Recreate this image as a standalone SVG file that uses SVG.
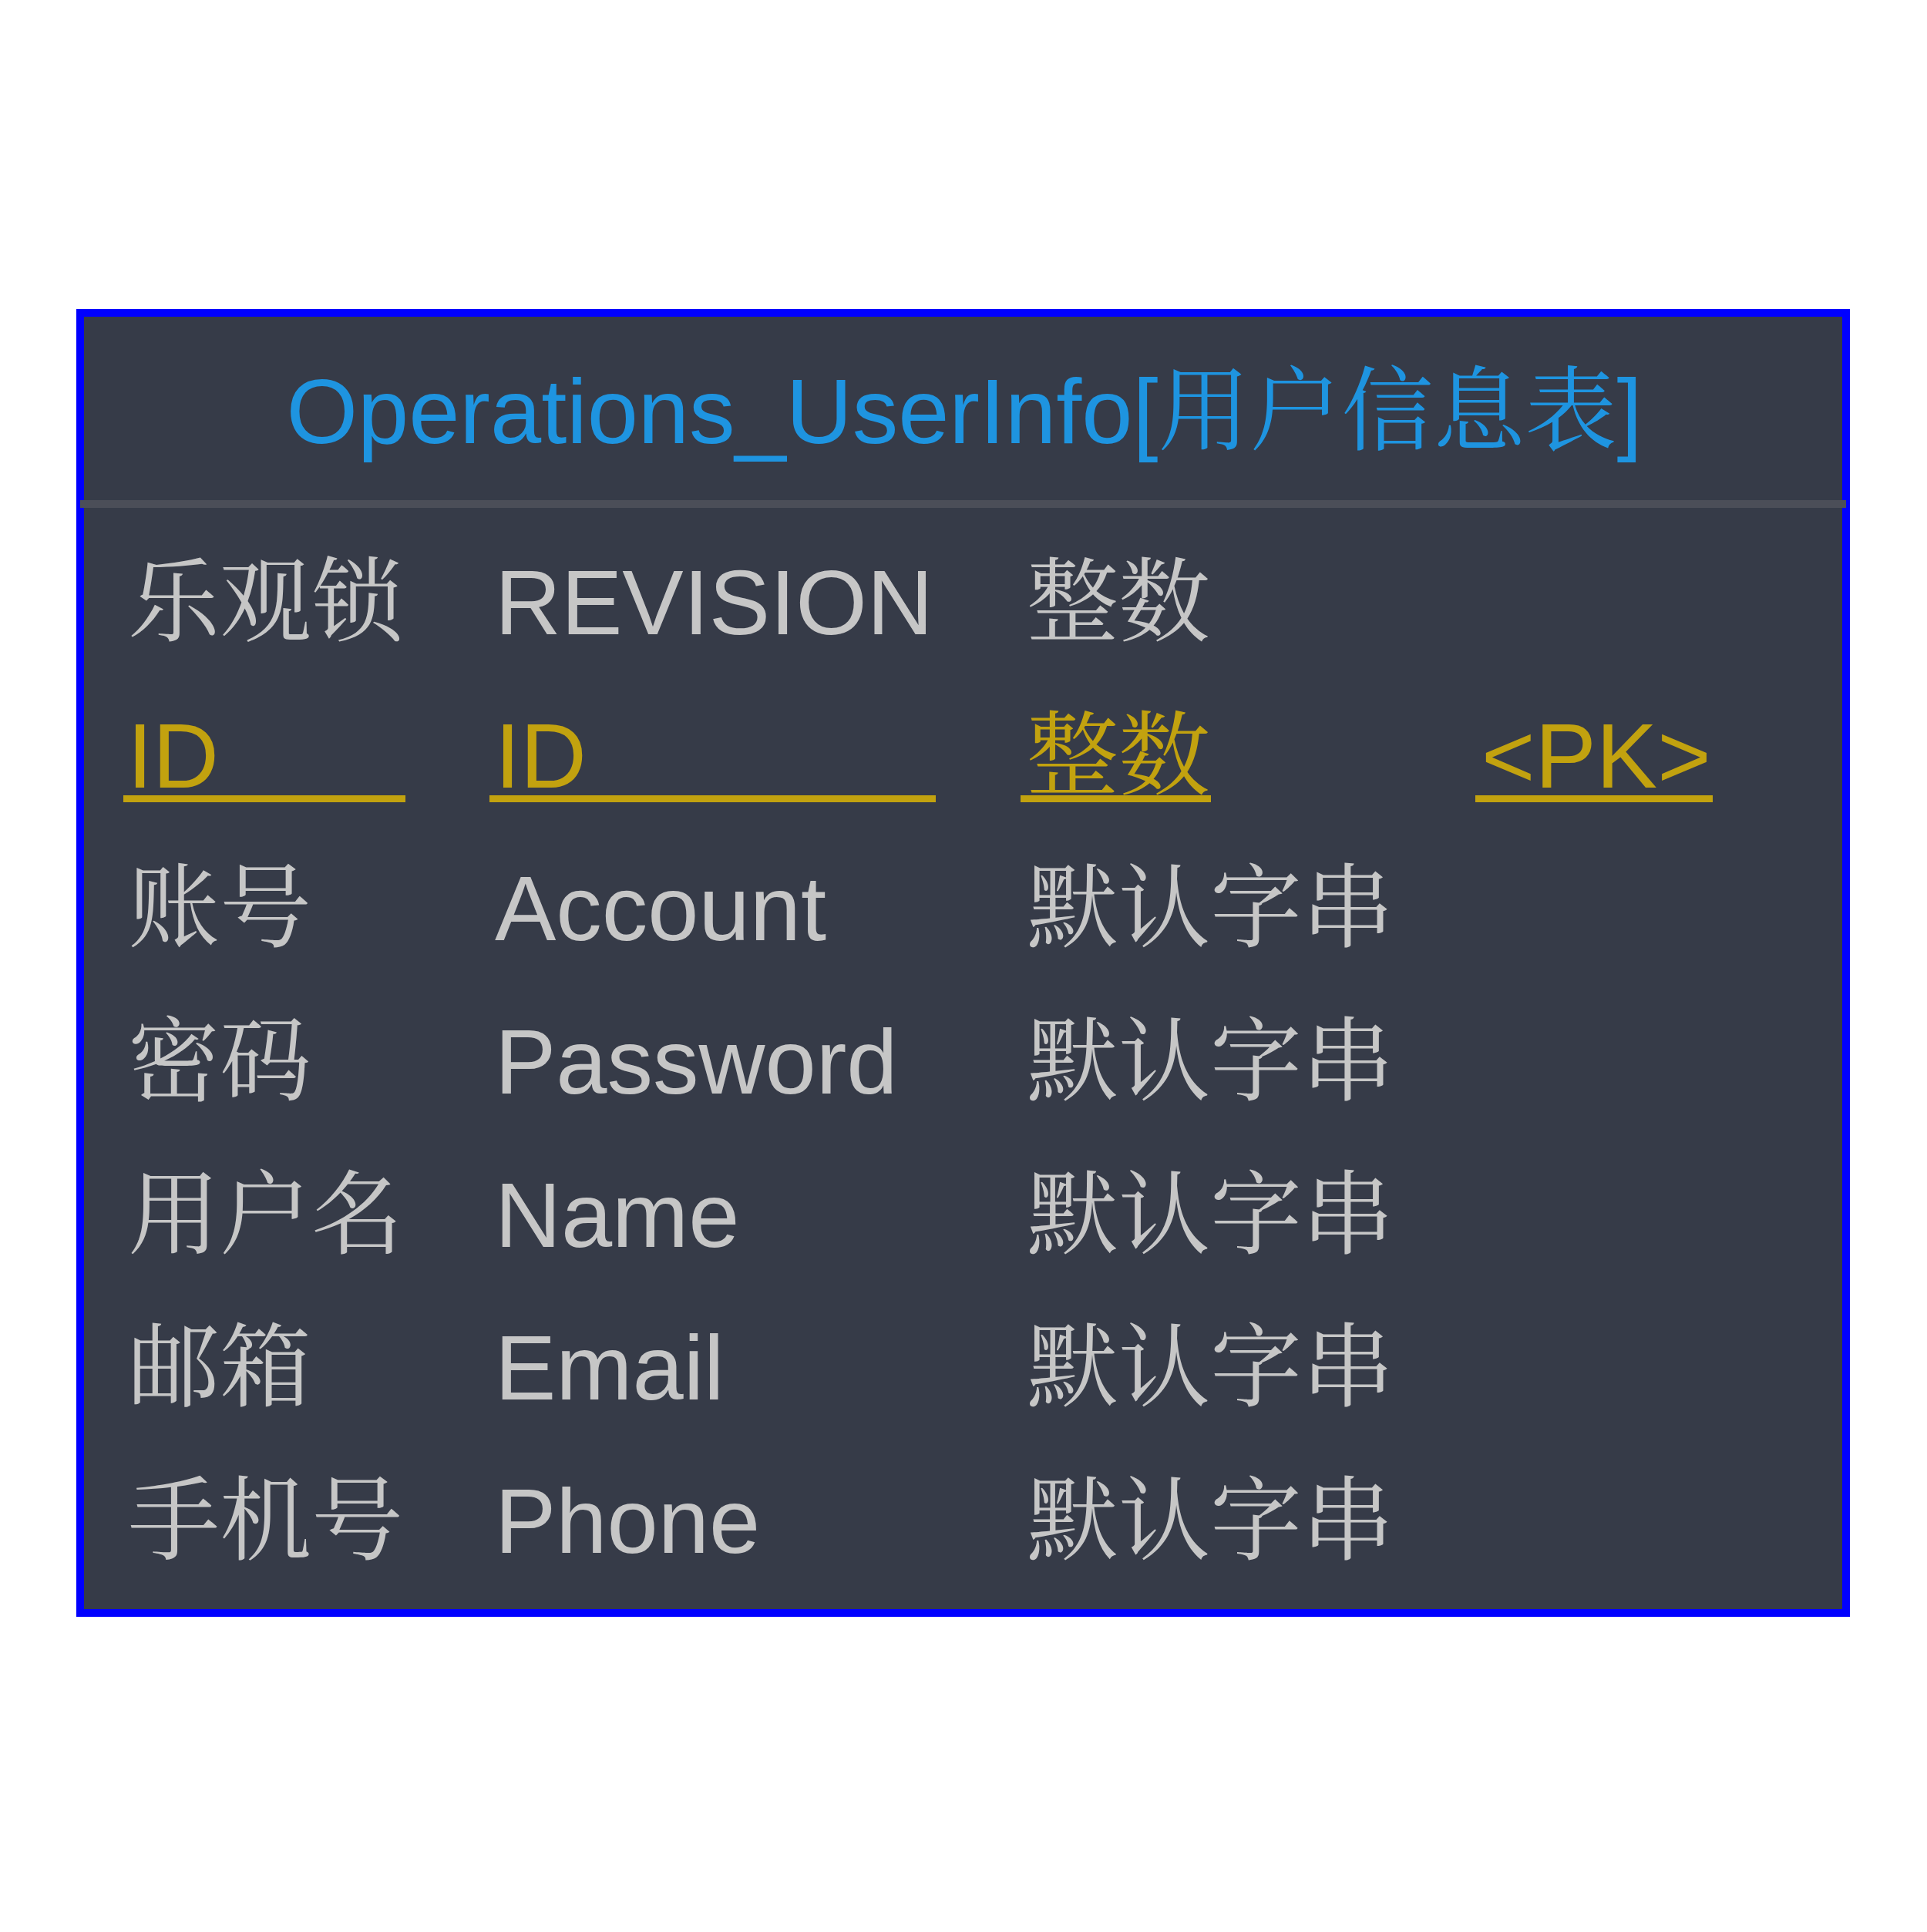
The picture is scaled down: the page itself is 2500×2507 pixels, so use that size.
<svg xmlns="http://www.w3.org/2000/svg" width="2500" height="2507" viewBox="0 0 2500 2507">
  <style>
    text { font-family: "Liberation Sans", Arial, "Noto Serif CJK SC", "Noto Sans CJK SC", sans-serif; font-size: 119px; }
    .title { fill: #1e94e0; text-anchor: middle; }
    .cell { fill: #c6c6c6; }
    .pk { fill: #c2a20f; }
    .ul { fill: #c2a20f; }
  </style>
  <rect x="0" y="0" width="2500" height="2507" fill="#ffffff"/>
  <g id="entity-Operations_UserInfo">
    <rect x="104" y="406" width="2291" height="1687" fill="#363b48" stroke="#0000ff" stroke-width="10"/>
    <text class="title" x="1251" y="575">Operations_UserInfo[用户信息表]</text>
    <rect x="104" y="649" width="2291" height="10" fill="#4b4e58"/>
    <g id="row-REVISION">
      <text class="cell" x="166" y="823">乐观锁</text>
      <text class="cell" x="642" y="823">REVISION</text>
      <text class="cell" x="1332" y="823">整数</text>
    </g>
    <g id="row-ID">
      <text class="pk" x="165" y="1022">ID</text>
      <text class="pk" x="642" y="1022">ID</text>
      <text class="pk" x="1332" y="1022">整数</text>
      <text class="pk" x="1922" y="1022">&lt;PK&gt;</text>
      <rect class="ul" x="160" y="1032" width="366" height="9"/>
      <rect class="ul" x="635" y="1032" width="579" height="9"/>
      <rect class="ul" x="1324" y="1032" width="247" height="9"/>
      <rect class="ul" x="1914" y="1032" width="308" height="9"/>
    </g>
    <g id="row-Account">
      <text class="cell" x="166" y="1220">账号</text>
      <text class="cell" x="642" y="1220">Account</text>
      <text class="cell" x="1332" y="1220">默认字串</text>
    </g>
    <g id="row-Password">
      <text class="cell" x="166" y="1419">密码</text>
      <text class="cell" x="642" y="1419">Password</text>
      <text class="cell" x="1332" y="1419">默认字串</text>
    </g>
    <g id="row-Name">
      <text class="cell" x="166" y="1618">用户名</text>
      <text class="cell" x="642" y="1618">Name</text>
      <text class="cell" x="1332" y="1618">默认字串</text>
    </g>
    <g id="row-Email">
      <text class="cell" x="166" y="1816">邮箱</text>
      <text class="cell" x="642" y="1816">Email</text>
      <text class="cell" x="1332" y="1816">默认字串</text>
    </g>
    <g id="row-Phone">
      <text class="cell" x="166" y="2015">手机号</text>
      <text class="cell" x="642" y="2015">Phone</text>
      <text class="cell" x="1332" y="2015">默认字串</text>
    </g>
  </g>
</svg>
